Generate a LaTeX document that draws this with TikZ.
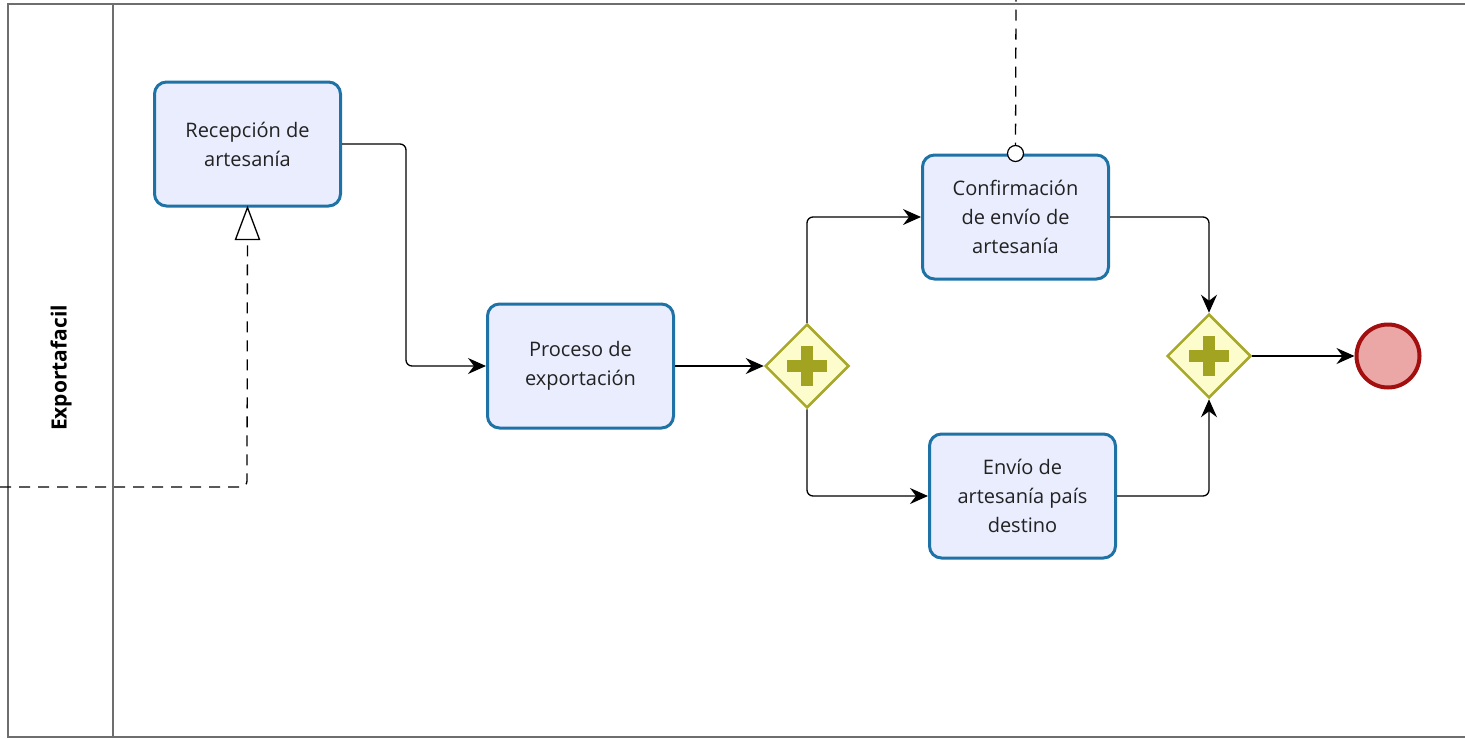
\documentclass[tikz,border=0pt]{standalone}
\usepackage{fontspec}
\setmainfont{Open Sans}
\usetikzlibrary{shapes.geometric,arrows.meta,calc}
\definecolor{poolgray}{HTML}{6E6E6E}
\definecolor{taskblue}{HTML}{1E72A6}
\definecolor{taskfill}{HTML}{E9EDFD}
\definecolor{gwline}{HTML}{A8A82A}
\definecolor{gwfill}{HTML}{FCFCCC}
\definecolor{gwplus}{HTML}{A3A322}
\definecolor{endline}{HTML}{A30F0F}
\definecolor{endfill}{HTML}{EBA6A6}
\definecolor{txt}{HTML}{222222}
\tikzset{
  lane/.style={draw=poolgray,line width=2pt},
  task/.style={draw=taskblue,fill=taskfill,line width=3pt,rounded corners=12pt,
    minimum width=186pt,minimum height=124pt,inner sep=0pt,align=center,
    text=txt,font=\fontsize{20}{29}\selectfont},
  gateway/.style={diamond,draw=gwline,fill=gwfill,line width=2.5pt,
    minimum width=84pt,minimum height=84pt,inner sep=0pt},
  endevent/.style={circle,draw=endline,fill=endfill,line width=4pt,minimum size=63pt,inner sep=0pt},
  flow/.style={draw=black,line width=1.3pt,rounded corners=6pt,
    -{Stealth[length=18pt,width=16pt,inset=6pt]}},
  msg/.style={draw=black,line width=1.3pt,dash pattern=on 11pt off 8pt,rounded corners=6pt},
  plus/.style={draw=gwplus,line width=12pt}
}
\begin{document}
\begin{tikzpicture}[x=1pt,y=-1pt]
\useasboundingbox (0,0) rectangle (1465,739);
% pool and lane
\draw[lane] (1466,4) -- (8,4) -- (8,737) -- (1466,737);
\draw[lane] (113,4) -- (113,737);
\node[rotate=90,font=\bfseries\fontsize{21}{24}\selectfont,text=black] (lanelabel) at (61,368) {Exportafacil};
% tasks
\node[task] (t1) at (247.5,144) {Recepción de\\artesanía};
\node[task] (t2) at (580.5,366) {Proceso de\\exportación};
\node[task] (t3) at (1015.5,217) {Confirmación\\de envío de\\artesanía};
\node[task] (t4) at (1022.5,496) {Envío de\\artesanía país\\destino};
% gateways
\node[gateway] (g1) at (807,366) {};
\draw[plus] ($(g1)+(-20,0)$) -- ($(g1)+(20,0)$);
\draw[plus] ($(g1)+(0,-20)$) -- ($(g1)+(0,20)$);
\node[gateway] (g2) at (1209,356) {};
\draw[plus] ($(g2)+(-20,0)$) -- ($(g2)+(20,0)$);
\draw[plus] ($(g2)+(0,-20)$) -- ($(g2)+(0,20)$);
% end
\node[endevent] (e) at (1388,356) {};
% message flows
\coordinate (m1) at (0,487);
\draw[msg] (m1) -- (247,487) -- (t1.south);
\draw[draw=black,fill=white,line width=1.3pt] (t1.south) -- ++(-12,32) -- ++(24,0) -- cycle;
\coordinate (m2) at (1016,0);
\draw[msg] (t3.north) -- (m2);
\node[circle,draw=black,fill=white,line width=1.2pt,minimum size=16pt,inner sep=0pt] (mc) at (t3.north) {};
% sequence flows
\draw[flow] (t1.east) -- (406,144) -- (406,366) -- (t2.west);
\draw[flow] (t2.east) -- (g1.west);
\draw[flow] (g1.north) -- (807,217) -- (t3.west);
\draw[flow] (g1.south) -- (807,496) -- (t4.west);
\draw[flow] (t3.east) -- (1209,217) -- (g2.north);
\draw[flow] (t4.east) -- (1209,496) -- (g2.south);
\draw[flow] (g2.east) -- (e.west);
\end{tikzpicture}
\end{document}
